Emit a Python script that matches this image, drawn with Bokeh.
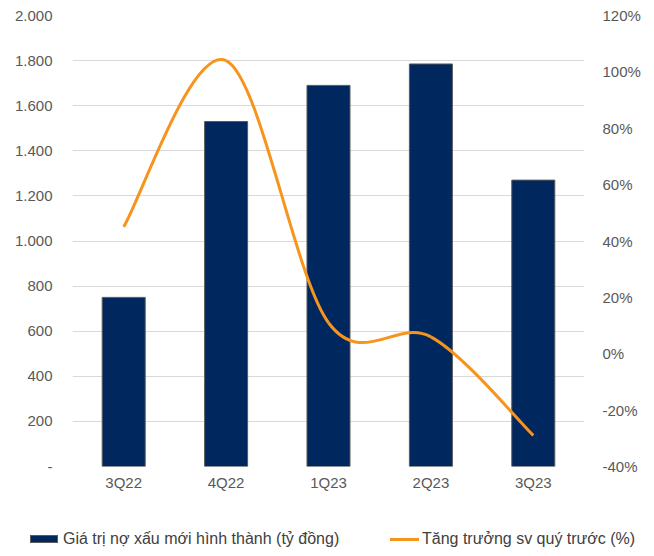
from bokeh.plotting import figure
from bokeh.layouts import column
from bokeh.models import Range1d, LinearAxis, FixedTicker, Div
from bokeh.embed import file_html
from bokeh.resources import INLINE

categories = ["3Q22", "4Q22", "1Q23", "2Q23", "3Q23"]
npl_new = [750, 1530, 1690, 1785, 1270]          # tỷ đồng
growth_pct = [45, 104, 11, 6, -29]               # %
left_ticks = [0, 200, 400, 600, 800, 1000, 1200, 1400, 1600, 1800, 2000]
left_tick_labels = ["-", "200", "400", "600", "800", "1.000", "1.200", "1.400", "1.600", "1.800", "2.000"]
right_ticks = [-40, -20, 0, 20, 40, 60, 80, 100, 120]
right_tick_labels = ["-40%", "-20%", "0%", "20%", "40%", "60%", "80%", "100%", "120%"]
series_names = ["Giá trị nợ xấu mới hình thành (tỷ đồng)", "Tăng trưởng sv quý trước (%)"]

BAR = "#00285F"
ORANGE = "#F7941D"
GRID = "#D9D9D9"
TXT = "#595959"
FONT = "Liberation Sans"

xs = list(range(len(categories)))

p = figure(width=654, height=500, output_backend="svg", toolbar_location=None,
           x_range=Range1d(-0.5, len(categories) - 0.5), y_range=Range1d(0, 2000))
p.min_border_left = 72
p.min_border_right = 70
p.min_border_top = 15
p.min_border_bottom = 34
p.outline_line_color = None
p.background_fill_color = "white"
p.border_fill_color = "white"

p.extra_y_ranges = {"pct": Range1d(-40, 120)}

# axes
p.xaxis.ticker = FixedTicker(ticks=xs)
p.xaxis.major_label_overrides = {i: c for i, c in zip(xs, categories)}
p.yaxis.ticker = FixedTicker(ticks=left_ticks)
p.yaxis.major_label_overrides = {t: l for t, l in zip(left_ticks, left_tick_labels)}

ra = LinearAxis(y_range_name="pct", ticker=FixedTicker(ticks=right_ticks))
ra.major_label_overrides = {t: l for t, l in zip(right_ticks, right_tick_labels)}
p.add_layout(ra, "right")

for ax in [p.xaxis[0], p.yaxis[0], ra]:
    ax.axis_line_color = None
    ax.major_tick_line_color = None
    ax.minor_tick_line_color = None
    ax.major_label_text_font = FONT
    ax.major_label_text_font_size = "15px"
    ax.major_label_text_color = TXT
p.xaxis.major_label_standoff = 1
p.yaxis.major_label_standoff = 14
ra.major_label_standoff = 12

p.xgrid.grid_line_color = None
p.ygrid.grid_line_color = GRID
p.ygrid.grid_line_width = 1

# bars
p.vbar(x=xs, top=npl_new, width=0.42, fill_color=BAR,
       line_color="#5A5A5A", line_width=1)

# smoothed line (Excel-style Catmull-Rom bezier through the data points)
n = len(xs)
x0, y0, x1, y1, cx0, cy0, cx1, cy1 = [], [], [], [], [], [], [], []
for i in range(n - 1):
    pm = (xs[max(i - 1, 0)], growth_pct[max(i - 1, 0)])
    pa = (xs[i], growth_pct[i])
    pb = (xs[i + 1], growth_pct[i + 1])
    pn = (xs[min(i + 2, n - 1)], growth_pct[min(i + 2, n - 1)])
    x0.append(pa[0]); y0.append(pa[1])
    x1.append(pb[0]); y1.append(pb[1])
    cx0.append(pa[0] + (pb[0] - pm[0]) / 6); cy0.append(pa[1] + (pb[1] - pm[1]) / 6)
    cx1.append(pb[0] - (pn[0] - pa[0]) / 6); cy1.append(pb[1] - (pn[1] - pa[1]) / 6)
p.bezier(x0=x0, y0=y0, x1=x1, y1=y1, cx0=cx0, cy0=cy0, cx1=cx1, cy1=cy1,
         line_color=ORANGE, line_width=3, y_range_name="pct")

# legend strip below the chart (HTML text)
legend_html = (
    f'<div style="position:relative;width:654px;height:56px;font-family:\'{FONT}\';'
    f'font-size:16px;color:#404040;line-height:20px;">'
    f'<div style="position:absolute;left:30px;top:35px;width:28px;height:8px;'
    f'background:{BAR};border:1px solid #5A5A5A;"></div>'
    f'<span style="position:absolute;left:63px;top:29px;white-space:nowrap;">{series_names[0]}</span>'
    f'<div style="position:absolute;left:390px;top:38px;width:29px;height:3px;'
    f'background:{ORANGE};"></div>'
    f'<span style="position:absolute;left:422px;top:29px;white-space:nowrap;">{series_names[1]}</span>'
    f'</div>'
)
legend_div = Div(text=legend_html, width=654, height=56, margin=0)

open("out.html", "w").write(file_html(column(p, legend_div, spacing=0), INLINE))
